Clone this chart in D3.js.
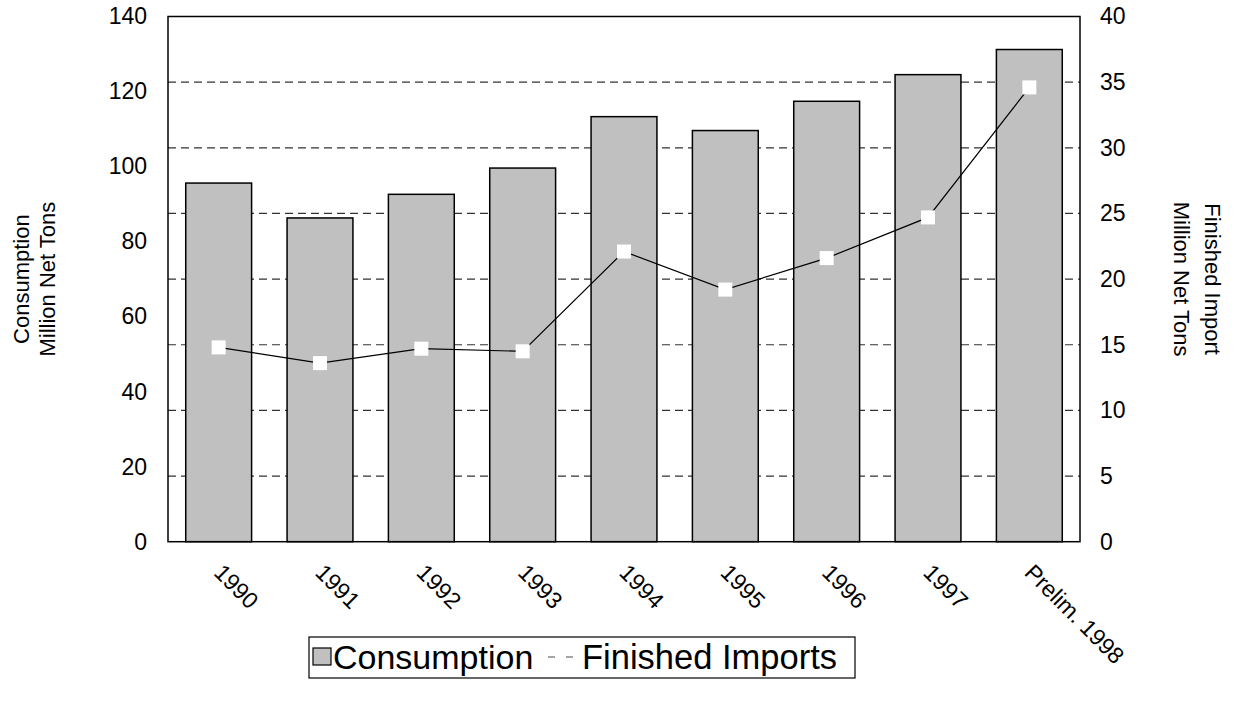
<!DOCTYPE html>
<html><head><meta charset="utf-8">
<script src="https://cdn.jsdelivr.net/npm/d3@7"></script>
<style>body{margin:0;background:#fff}</style>
</head><body>
<svg id="chart" width="1237" height="704"></svg>
<script>
const categories = ["1990","1991","1992","1993","1994","1995","1996","1997","Prelim. 1998"];
const consumption = [95.6, 86.3, 92.6, 99.6, 113.3, 109.6, 117.4, 124.5, 131.2];
const finishedImports = [14.8, 13.6, 14.7, 14.5, 22.1, 19.2, 21.6, 24.7, 34.6];
const leftTicks = [0, 20, 40, 60, 80, 100, 120, 140];
const rightTicks = [0, 5, 10, 15, 20, 25, 30, 35, 40];
const gridTicks = [5, 10, 15, 20, 25, 30, 35];
const leftTitle = ["Consumption", "Million Net Tons"];
const rightTitle = ["Finished Import", "Million Net Tons"];
const legendLabels = ["Consumption", "Finished Imports"];

const FONT = "Liberation Sans, Arial, sans-serif";
const L = 168, R = 1080, T = 16.5, B = 541.7;
const svg = d3.select("#chart").style("font-family", FONT);

const x = d3.scaleBand().domain(categories).range([L, R]).paddingInner(0.35).paddingOuter(0.175);
const yL = d3.scaleLinear().domain([0, 140]).range([B, T]);
const yR = d3.scaleLinear().domain([0, 40]).range([B, T]);

// gridlines
svg.append("g").selectAll("line").data(gridTicks).join("line")
  .attr("x1", L).attr("x2", R)
  .attr("y1", d => yR(d)).attr("y2", d => yR(d))
  .attr("stroke", "#333").attr("stroke-width", 1.2).attr("stroke-dasharray", "8,5");

// bars
svg.append("g").selectAll("rect").data(categories).join("rect")
  .attr("x", d => x(d)).attr("width", x.bandwidth())
  .attr("y", (d, i) => yL(consumption[i]))
  .attr("height", (d, i) => B - yL(consumption[i]))
  .attr("fill", "#c0c0c0").attr("stroke", "#000").attr("stroke-width", 1.5);

// frame
svg.append("rect").attr("x", L).attr("y", T).attr("width", R - L).attr("height", B - T)
  .attr("fill", "none").attr("stroke", "#000").attr("stroke-width", 1.5);

// line
const cx = d => x(d) + x.bandwidth() / 2;
const line = d3.line().x((d, i) => cx(categories[i])).y(d => yR(d));
svg.append("path").datum(finishedImports).attr("d", line)
  .attr("fill", "none").attr("stroke", "#000").attr("stroke-width", 1.2);
svg.append("g").selectAll("rect").data(finishedImports).join("rect")
  .attr("x", (d, i) => cx(categories[i]) - 7).attr("y", d => yR(d) - 7)
  .attr("width", 14).attr("height", 14).attr("fill", "#fff");

// left axis
const axL = svg.append("g").attr("transform", `translate(${L},0)`)
  .call(d3.axisLeft(yL).tickValues(leftTicks).tickSize(0).tickPadding(21));
axL.select(".domain").remove();
axL.selectAll("text").attr("font-size", 23).attr("font-family", FONT).attr("fill", "#000");

// right axis
const axR = svg.append("g").attr("transform", `translate(${R},0)`)
  .call(d3.axisRight(yR).tickValues(rightTicks).tickSize(0).tickPadding(20));
axR.select(".domain").remove();
axR.selectAll("text").attr("font-size", 23).attr("font-family", FONT).attr("fill", "#000");

// x labels
svg.append("g").selectAll("text").data(categories).join("text")
  .attr("transform", d => `translate(${cx(d) - 6},574) rotate(45)`)
  .attr("font-size", 23).attr("fill", "#000").text(d => d);

// axis titles
const lt = svg.append("g");
[29, 55].forEach((bx, i) => {
  lt.append("text").attr("transform", `translate(${bx},${(T + B) / 2}) rotate(-90)`)
    .attr("text-anchor", "middle").attr("font-size", 22).text(leftTitle[i]);
});
[1205, 1174].forEach((bx, i) => {
  lt.append("text").attr("transform", `translate(${bx},${(T + B) / 2}) rotate(90)`)
    .attr("text-anchor", "middle").attr("font-size", 22).text(rightTitle[i]);
});

// legend
const lg = svg.append("g");
lg.append("rect").attr("x", 309).attr("y", 637).attr("width", 546).attr("height", 41)
  .attr("fill", "#fff").attr("stroke", "#000").attr("stroke-width", 1.2);
lg.append("rect").attr("x", 313).attr("y", 648).attr("width", 18).attr("height", 17)
  .attr("fill", "#c0c0c0").attr("stroke", "#000").attr("stroke-width", 1.2);
lg.append("text").attr("x", 333).attr("y", 669).attr("font-size", 34).text(legendLabels[0]);
lg.append("line").attr("x1", 548).attr("x2", 574).attr("y1", 657).attr("y2", 657)
  .attr("stroke", "#888").attr("stroke-width", 1.5).attr("stroke-dasharray", "7,11");
lg.append("text").attr("x", 582).attr("y", 669).attr("font-size", 34.5).text(legendLabels[1]);
</script>
</body></html>
